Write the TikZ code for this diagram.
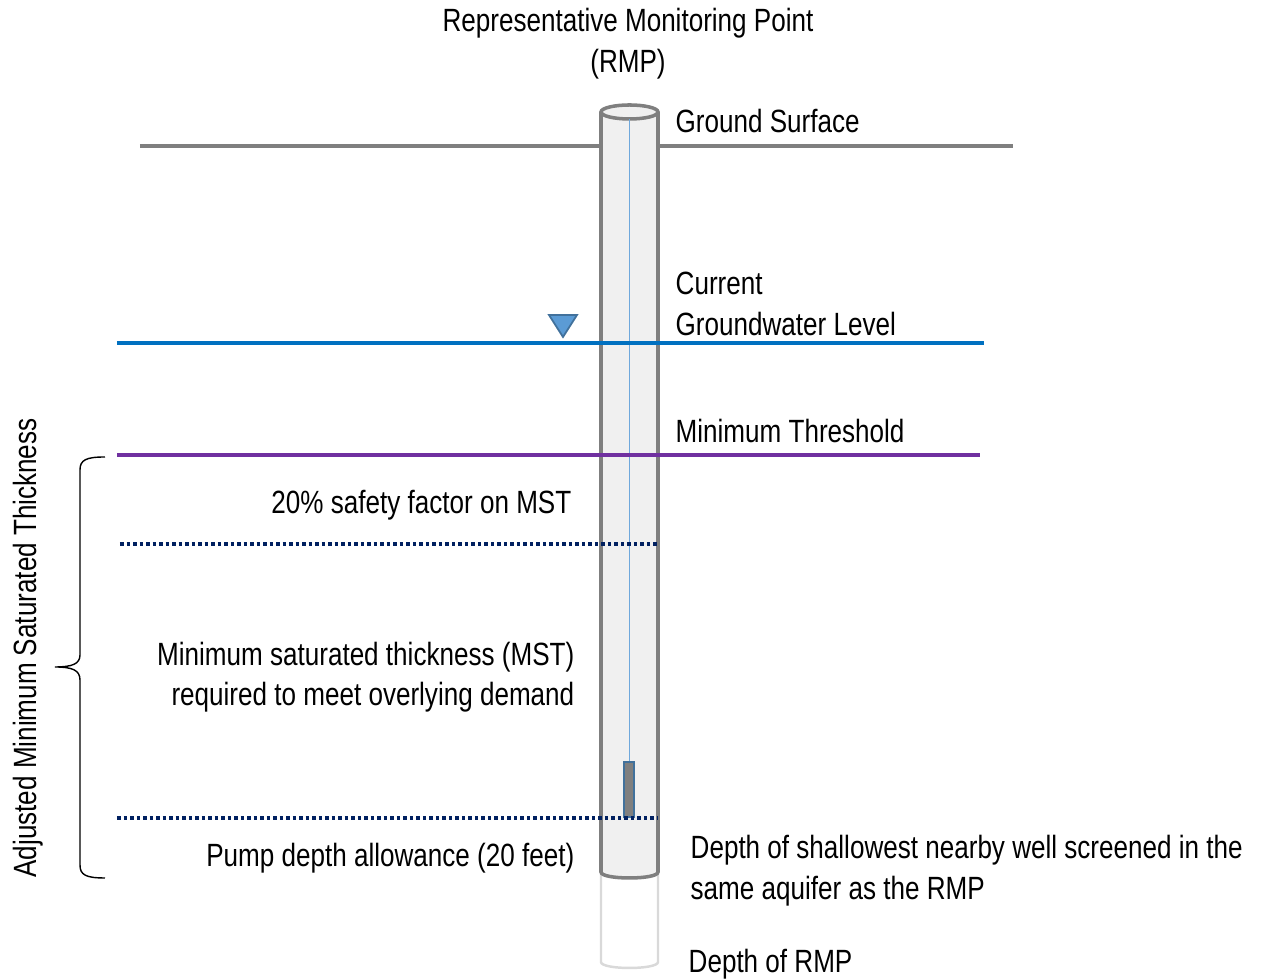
\documentclass[tikz,border=0pt]{standalone}
\usepackage{fontspec}
\setmainfont{Liberation Sans}[FakeStretch=0.81]
\definecolor{groundgray}{HTML}{7F7F7F}
\definecolor{pipefill}{HTML}{F0F0F0}
\definecolor{pipeghost}{HTML}{D9D9D9}
\definecolor{waterblue}{HTML}{0070C0}
\definecolor{tribluefill}{HTML}{5B9BD5}
\definecolor{triblueedge}{HTML}{41719C}
\definecolor{mtpurple}{HTML}{7030A0}
\definecolor{dotnavy}{HTML}{002060}
\definecolor{wireblue}{HTML}{6FA8DC}
\tikzset{
    lbl/.style={font=\fontsize{9.15}{11}\selectfont, inner sep=0pt},
    lvl/.style={line width=1pt},
    dotline/.style={dotnavy, line width=1pt, dash pattern=on 1pt off 0.85pt}
}
\begin{document}
\begin{tikzpicture}[x=0.01cm, y=-0.01cm]
    \useasboundingbox (0,0) rectangle (1265,980);
    \node[lbl, anchor=base] (title) at (628,32) {Representative Monitoring Point};
    \node[lbl, anchor=base] (titlermp) at (628,73) {(RMP)};
    \draw[groundgray, line width=0.9pt] (140,146) -- (1013,146);
    \draw[pipeghost, line width=0.7pt, fill=white] (601,872) -- (601,962) .. controls (601,970) and (658,970) .. (658,962) -- (658,872);
    \draw[groundgray, line width=1pt, fill=pipefill] (601,112) -- (601,872) .. controls (601,880) and (658,880) .. (658,872) -- (658,112);
    \draw[groundgray, line width=1pt, fill=pipefill] (629.5,112) ellipse [x radius=28.5, y radius=7];
    \draw[wireblue, line width=0.55pt] (629.5,119) -- (629.5,762);
    \draw[triblueedge, line width=0.5pt, fill=groundgray] (624,762) rectangle (634,817);
    \draw[lvl, waterblue] (117,343) -- (984,343);
    \draw[triblueedge, line width=0.5pt, fill=tribluefill] (549,315) -- (577,315) -- (563,337) -- cycle;
    \draw[lvl, mtpurple] (117,455) -- (980,455);
    \draw[dotline] (120,544) -- (658,544);
    \draw[dotline] (117,818) -- (658,818);
    \draw[line width=0.4pt] (105,457) .. controls (86,457) and (80,460) .. (80,470) -- (80,655) .. controls (80,664) and (72,667) .. (55,667) .. controls (72,667) and (80,670) .. (80,680) -- (80,865) .. controls (80,875) and (86,878) .. (105,878);
    \node[lbl, anchor=base, rotate=90] (amst) at (36,648) {Adjusted Minimum Saturated Thickness};
    \node[lbl, anchor=base west] (ground) at (675,133) {Ground Surface};
    \node[lbl, anchor=base west] (current) at (675,295) {Current};
    \node[lbl, anchor=base west] (gwl) at (675,336) {Groundwater Level};
    \node[lbl, anchor=base west] (mt) at (675,443) {Minimum Threshold};
    \node[lbl, anchor=base east] (safety) at (572,514) {20\% safety factor on MST};
    \node[lbl, anchor=base east] (mst) at (575,666) {Minimum saturated thickness (MST)};
    \node[lbl, anchor=base east] (demand) at (575,706) {required to meet overlying demand};
    \node[lbl, anchor=base east] (pump) at (575,867) {Pump depth allowance (20 feet)};
    \node[lbl, anchor=base west] (shallow) at (690,859) {Depth of shallowest nearby well screened in the};
    \node[lbl, anchor=base west] (aquifer) at (690,900) {same aquifer as the RMP};
    \node[lbl, anchor=base west] (rmpdepth) at (688,973) {Depth of RMP};
\end{tikzpicture}
\end{document}
